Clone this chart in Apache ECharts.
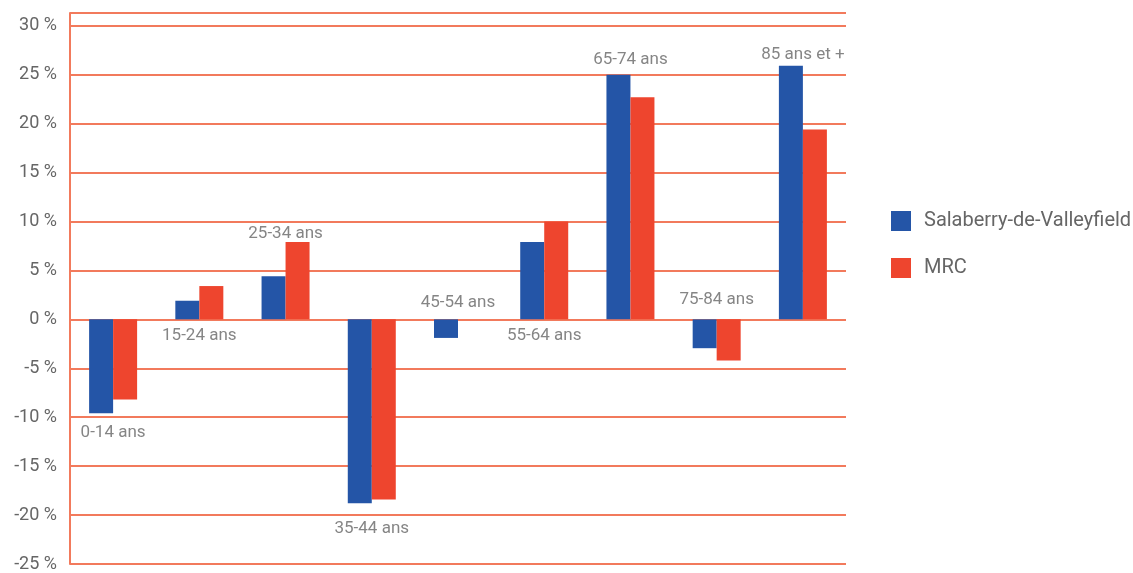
<!DOCTYPE html>
<html>
<head>
<meta charset="utf-8">
<script src="https://cdn.jsdelivr.net/npm/echarts@6/dist/echarts.min.js"></script>
<style>
  html, body { margin: 0; padding: 0; background: #ffffff; }
  #chart { width: 1133px; height: 573px; }
</style>
</head>
<body>
<div id="chart"></div>
<script>
// ---- data ----
const categories = ['0-14 ans', '15-24 ans', '25-34 ans', '35-44 ans', '45-54 ans', '55-64 ans', '65-74 ans', '75-84 ans', '85 ans et +'];
const salaberry = [-9.6, 1.9, 4.4, -18.8, -1.9, 7.9, 25.0, -2.95, 25.9];
const mrc = [-8.2, 3.4, 7.9, -18.4, 0, 10.0, 22.7, -4.2, 19.4];
const seriesNames = ['Salaberry-de-Valleyfield', 'MRC'];
const yTicks = [-25, -20, -15, -10, -5, 0, 5, 10, 15, 20, 25, 30];

// ---- style ----
const BLUE = '#2455A7';
const RED = '#EE452E';
const GRID = '#F27A5C';
const TEXT = '#666666';
const FONT = 'Roboto';
// where each category label sits: 'end' = beyond the longest bar, 'opposite' = across the zero line
const labelSide = ['end', 'opposite', 'end', 'end', 'opposite', 'opposite', 'end', 'opposite', 'end'];
const labelGap = [11, 8, 0, 17, 8, 8, 6, 11, 3];

const labelData = categories.map((c, i) => {
  const b = salaberry[i], r = mrc[i];
  const ext = Math.abs(b) >= Math.abs(r) ? b : r;
  let value, pos;
  if (labelSide[i] === 'end') { value = ext; pos = ext > 0 ? 'top' : 'bottom'; }
  else { value = 0; pos = ext > 0 ? 'bottom' : 'top'; }
  return { name: c, value: value, label: { position: pos, distance: labelGap[i] } };
});

const chart = echarts.init(document.getElementById('chart'), null, { renderer: 'canvas' });
chart.setOption({
  animation: false,
  backgroundColor: '#ffffff',
  grid: { left: 70, right: 287, top: 13, bottom: 4, containLabel: false },
  legend: {
    data: seriesNames,
    orient: 'vertical',
    left: 886, top: 206,
    itemWidth: 20, itemHeight: 20, itemGap: 27,
    icon: 'rect',
    textStyle: { fontFamily: FONT, fontSize: 20, color: TEXT, padding: [0, 0, 0, 8] }
  },
  xAxis: {
    type: 'category',
    data: categories,
    axisLine: { show: false },
    axisTick: { show: false },
    axisLabel: { show: false },
    splitLine: { show: false }
  },
  yAxis: {
    type: 'value',
    min: -25, max: 31.3, interval: 5,
    axisLine: { show: true, lineStyle: { color: GRID, width: 2 } },
    axisTick: { show: false },
    axisLabel: {
      formatter: v => (yTicks.indexOf(Math.round(v * 100) / 100) >= 0 ? v + ' %' : ''),
      fontFamily: FONT, fontSize: 18, color: TEXT, margin: 13
    },
    splitLine: { show: true, lineStyle: { color: GRID, width: 2 } }
  },
  series: [
    { name: seriesNames[0], type: 'bar', data: salaberry, barWidth: 24, barGap: '0%', itemStyle: { color: BLUE } },
    { name: seriesNames[1], type: 'bar', data: mrc, barWidth: 24, barGap: '0%', itemStyle: { color: RED } },
    {
      name: 'labels', type: 'scatter', data: labelData, symbolSize: 0, silent: true, z: 5,
      label: { show: true, formatter: '{b}', fontFamily: FONT, fontSize: 17, color: TEXT }
    }
  ]
});
</script>
</body>
</html>
